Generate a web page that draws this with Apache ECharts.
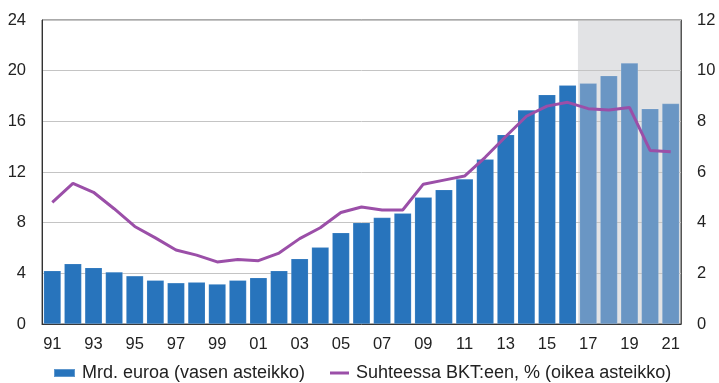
<!DOCTYPE html>
<html>
<head>
<meta charset="utf-8">
<script src="https://cdn.jsdelivr.net/npm/echarts@6/dist/echarts.min.js"></script>
<style>
  html, body { margin: 0; padding: 0; background: #fff; }
  #chart { width: 719px; height: 383px; }
</style>
</head>
<body>
<div id="chart"></div>
<script>
// Years 1991–2021, shown as two-digit labels
const years = ['91','92','93','94','95','96','97','98','99','00','01','02','03','04','05','06','07','08','09','10','11','12','13','14','15','16','17','18','19','20','21'];

// Billion euros (left scale)
const mrdEuroa = [4.2, 4.75, 4.45, 4.1, 3.8, 3.45, 3.25, 3.3, 3.15, 3.45, 3.65, 4.2, 5.15, 6.05, 7.2, 8.0, 8.4, 8.75, 10.0, 10.6, 11.45, 13.0, 14.95, 16.9, 18.1, 18.85, 19.0, 19.6, 20.6, 17.0, 17.4];

// Share of GDP, % (right scale)
const suhteessaBkt = [4.8, 5.55, 5.2, 4.55, 3.85, 3.4, 2.92, 2.72, 2.45, 2.55, 2.5, 2.8, 3.37, 3.8, 4.4, 4.62, 4.5, 4.5, 5.52, 5.68, 5.84, 6.58, 7.4, 8.2, 8.6, 8.75, 8.5, 8.45, 8.55, 6.85, 6.8];

// First forecast year
const forecastStart = '17';

const leftTicks = { min: 0, max: 24, interval: 4 };
const rightTicks = { min: 0, max: 12, interval: 2 };

const barName = 'Mrd. euroa (vasen asteikko)';
const lineName = 'Suhteessa BKT:een, % (oikea asteikko)';

const forecastIdx = years.indexOf(forecastStart);
const barColor = '#2874bc';
const forecastColor = '#6a96c4';
const lineColor = '#9b4fa8';
const shadeColor = '#e2e3e5';
const font = 'Liberation Sans, Arial, sans-serif';

const barData = mrdEuroa.map((v, i) => ({
  value: v,
  itemStyle: { color: i >= forecastIdx ? forecastColor : barColor }
}));

const legendText = { fontFamily: font, fontSize: 18, color: '#222', padding: [0, 0, 0, 2] };

const chart = echarts.init(document.getElementById('chart'), null, { renderer: 'canvas' });
chart.setOption({
  animation: false,
  textStyle: { fontFamily: font },
  grid: {
    left: 42, right: 38, top: 20, bottom: 59,
    show: true, borderColor: '#555', borderWidth: 1, backgroundColor: 'transparent'
  },
  legend: [
    {
      left: 53, top: 364, padding: 0,
      itemWidth: 21, itemHeight: 8,
      textStyle: legendText,
      data: [{ name: barName, icon: 'rect' }]
    },
    {
      left: 330, top: 364, padding: 0,
      itemWidth: 19, itemHeight: 3,
      textStyle: legendText,
      data: [{ name: lineName, icon: 'rect' }]
    }
  ],
  xAxis: {
    type: 'category', data: years,
    axisLine: { lineStyle: { color: '#333', width: 1 } },
    axisTick: { show: false },
    axisLabel: { interval: 1, fontSize: 16.5, color: '#222', margin: 12, fontFamily: font }
  },
  yAxis: [
    {
      type: 'value', min: leftTicks.min, max: leftTicks.max, interval: leftTicks.interval,
      axisLine: { show: true, lineStyle: { color: '#333', width: 1 } },
      axisTick: { show: false },
      splitLine: { lineStyle: { color: '#c4c4c4', width: 1 } },
      axisLabel: { fontSize: 16.5, color: '#222', margin: 16, fontFamily: font }
    },
    {
      type: 'value', min: rightTicks.min, max: rightTicks.max, interval: rightTicks.interval,
      axisLine: { show: true, lineStyle: { color: '#555', width: 1 } },
      axisTick: { show: false },
      splitLine: { show: false },
      axisLabel: { fontSize: 16.5, color: '#222', margin: 16, fontFamily: font }
    }
  ],
  series: [
    {
      // forecast period background, spanning whole category bands
      type: 'custom', silent: true, z: -1,
      data: [[forecastIdx, years.length - 1]],
      encode: { x: [0, 1] },
      renderItem: function (params, api) {
        const a = api.coord([api.value(0), leftTicks.max]);
        const b = api.coord([api.value(1), leftTicks.min]);
        const w = api.size([1, 0])[0];
        return {
          type: 'rect',
          shape: { x: a[0] - w / 2, y: a[1], width: b[0] - a[0] + w, height: b[1] - a[1] },
          style: { fill: shadeColor }
        };
      }
    },
    {
      name: barName,
      type: 'bar', yAxisIndex: 0,
      data: barData, barCategoryGap: '16%',
      itemStyle: { color: barColor, borderColor: 'rgba(255,255,255,0.25)', borderWidth: 0.5 }
    },
    {
      name: lineName,
      type: 'line', yAxisIndex: 1,
      data: suhteessaBkt, symbol: 'none', z: 3,
      lineStyle: { color: lineColor, width: 3 },
      itemStyle: { color: lineColor }
    }
  ]
});
</script>
</body>
</html>
